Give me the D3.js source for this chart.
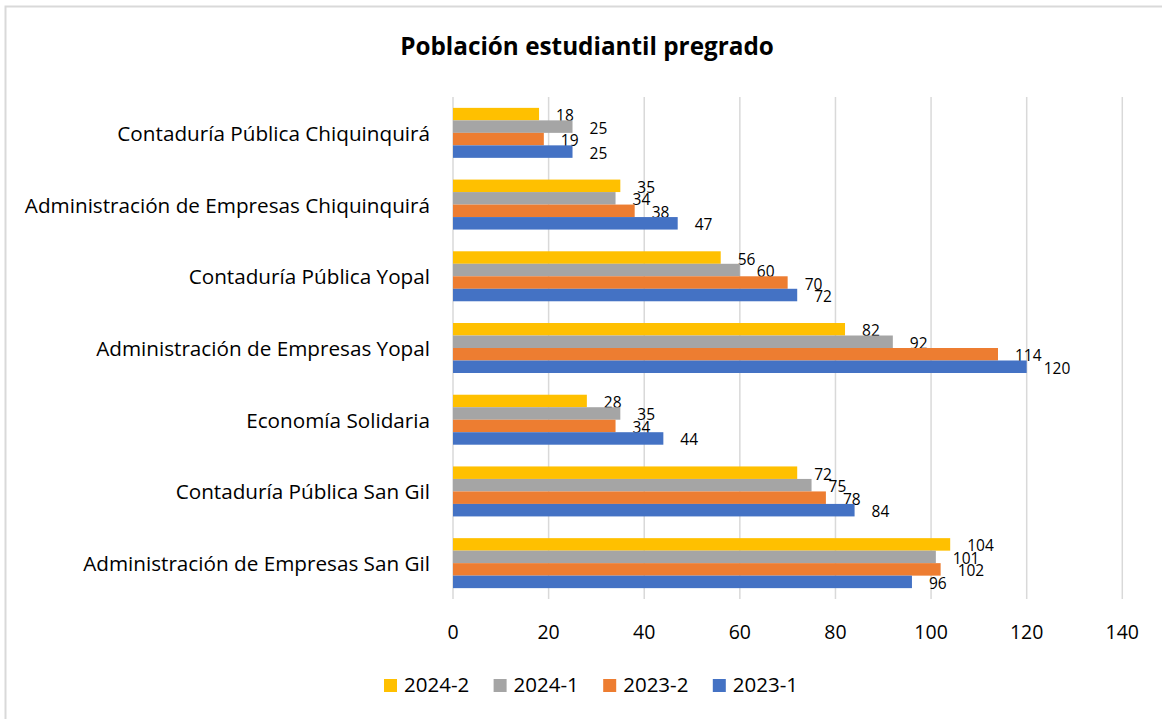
<!DOCTYPE html>
<html lang="es">
<head>
    <meta charset="UTF-8">
    <title>Población estudiantil pregrado</title>
    <script src="https://d3js.org/d3.v7.min.js"></script>
    <style>
        body {
            margin: 0;
            background: #fff;
            font-family: "Open Sans", Lato, sans-serif;
        }
        .grid line {
            stroke: #d9d9d9;
            stroke-width: 1.5px;
        }
        .tick-label {
            font-size: 19.5px;
            fill: #000;
        }
        .cat-label {
            font-size: 20.7px;
            fill: #000;
        }
        .value-label {
            font-size: 15.5px;
            fill: #000;
        }
        .legend-text {
            font-size: 20.5px;
            fill: #000;
        }
    </style>
</head>
<body>
    <svg id="chart"></svg>

    <script>
        const width = 1162;
        const height = 719;

        // categories, top to bottom
        const programas = [
            "Contaduría Pública Chiquinquirá",
            "Administración de Empresas Chiquinquirá",
            "Contaduría Pública Yopal",
            "Administración de Empresas Yopal",
            "Economía Solidaria",
            "Contaduría Pública San Gil",
            "Administración de Empresas San Gil"
        ];

        // series, drawn top to bottom inside each group
        const periodos = ["2024-2", "2024-1", "2023-2", "2023-1"];
        const colores = ["#FFC000", "#A5A5A5", "#ED7D31", "#4472C4"];

        const v2024_2 = [18, 35, 56, 82, 28, 72, 104];
        const v2024_1 = [25, 34, 60, 92, 35, 75, 101];
        const v2023_2 = [19, 38, 70, 114, 34, 78, 102];
        const v2023_1 = [25, 47, 72, 120, 44, 84, 96];
        const valores = [v2024_2, v2024_1, v2023_2, v2023_1];

        const xTicks = [0, 20, 40, 60, 80, 100, 120, 140];

        const svg = d3.select("#chart")
            .attr("width", width)
            .attr("height", height);

        // chart frame
        svg.append("rect")
            .attr("x", 5.5)
            .attr("y", 6.5)
            .attr("width", 1170)
            .attr("height", 730)
            .attr("fill", "#fff")
            .attr("stroke", "#d9d9d9")
            .attr("stroke-width", 2);

        // title
        svg.append("text")
            .attr("x", 587)
            .attr("y", 55)
            .attr("text-anchor", "middle")
            .style("font-size", "24.3px")
            .style("font-weight", "bold")
            .text("Población estudiantil pregrado");

        const plotTop = 97, plotBottom = 599;

        const x = d3.scaleLinear()
            .domain([0, 140])
            .range([453, 1122.3]);

        const y = d3.scaleBand()
            .domain(programas)
            .range([plotTop, plotBottom])
            .paddingInner(0.303)
            .paddingOuter(0.1515);

        const ySub = d3.scaleBand()
            .domain(periodos)
            .range([0, y.bandwidth()]);

        // gridlines
        svg.append("g")
            .attr("class", "grid")
            .selectAll("line")
            .data(xTicks)
            .enter().append("line")
            .attr("x1", d => x(d))
            .attr("x2", d => x(d))
            .attr("y1", plotTop)
            .attr("y2", plotBottom);

        // x tick labels
        svg.append("g")
            .selectAll("text")
            .data(xTicks)
            .enter().append("text")
            .attr("class", "tick-label")
            .attr("x", d => x(d))
            .attr("y", 639)
            .attr("text-anchor", "middle")
            .text(d => d);

        // category labels
        svg.append("g")
            .selectAll("text")
            .data(programas)
            .enter().append("text")
            .attr("class", "cat-label")
            .attr("x", 430)
            .attr("y", d => y(d) + y.bandwidth() / 2 + 8)
            .attr("text-anchor", "end")
            .text(d => d);

        // bars + value labels, one group per series
        periodos.forEach((p, i) => {
            const rows = programas.map((c, j) => ({ cat: c, val: valores[i][j] }));
            const g = svg.append("g");

            g.selectAll("rect")
                .data(rows)
                .enter().append("rect")
                .attr("x", x(0))
                .attr("y", d => y(d.cat) + ySub(p))
                .attr("width", d => x(d.val) - x(0))
                .attr("height", ySub.bandwidth())
                .attr("fill", colores[i]);

            g.selectAll("text")
                .data(rows)
                .enter().append("text")
                .attr("class", "value-label")
                .attr("x", d => x(d.val) + 17)
                .attr("y", d => y(d.cat) + ySub(p) + ySub.bandwidth() / 2 + 7)
                .text(d => d.val);
        });

        // legend
        const legend = svg.append("g")
            .selectAll("g")
            .data(periodos)
            .enter().append("g")
            .attr("transform", (d, i) => `translate(${384 + i * 109.6}, 679)`);

        legend.append("rect")
            .attr("width", 13)
            .attr("height", 13)
            .attr("fill", (d, i) => colores[i]);

        legend.append("text")
            .attr("class", "legend-text")
            .attr("x", 20)
            .attr("y", 13)
            .text(d => d);
    </script>
</body>
</html>
